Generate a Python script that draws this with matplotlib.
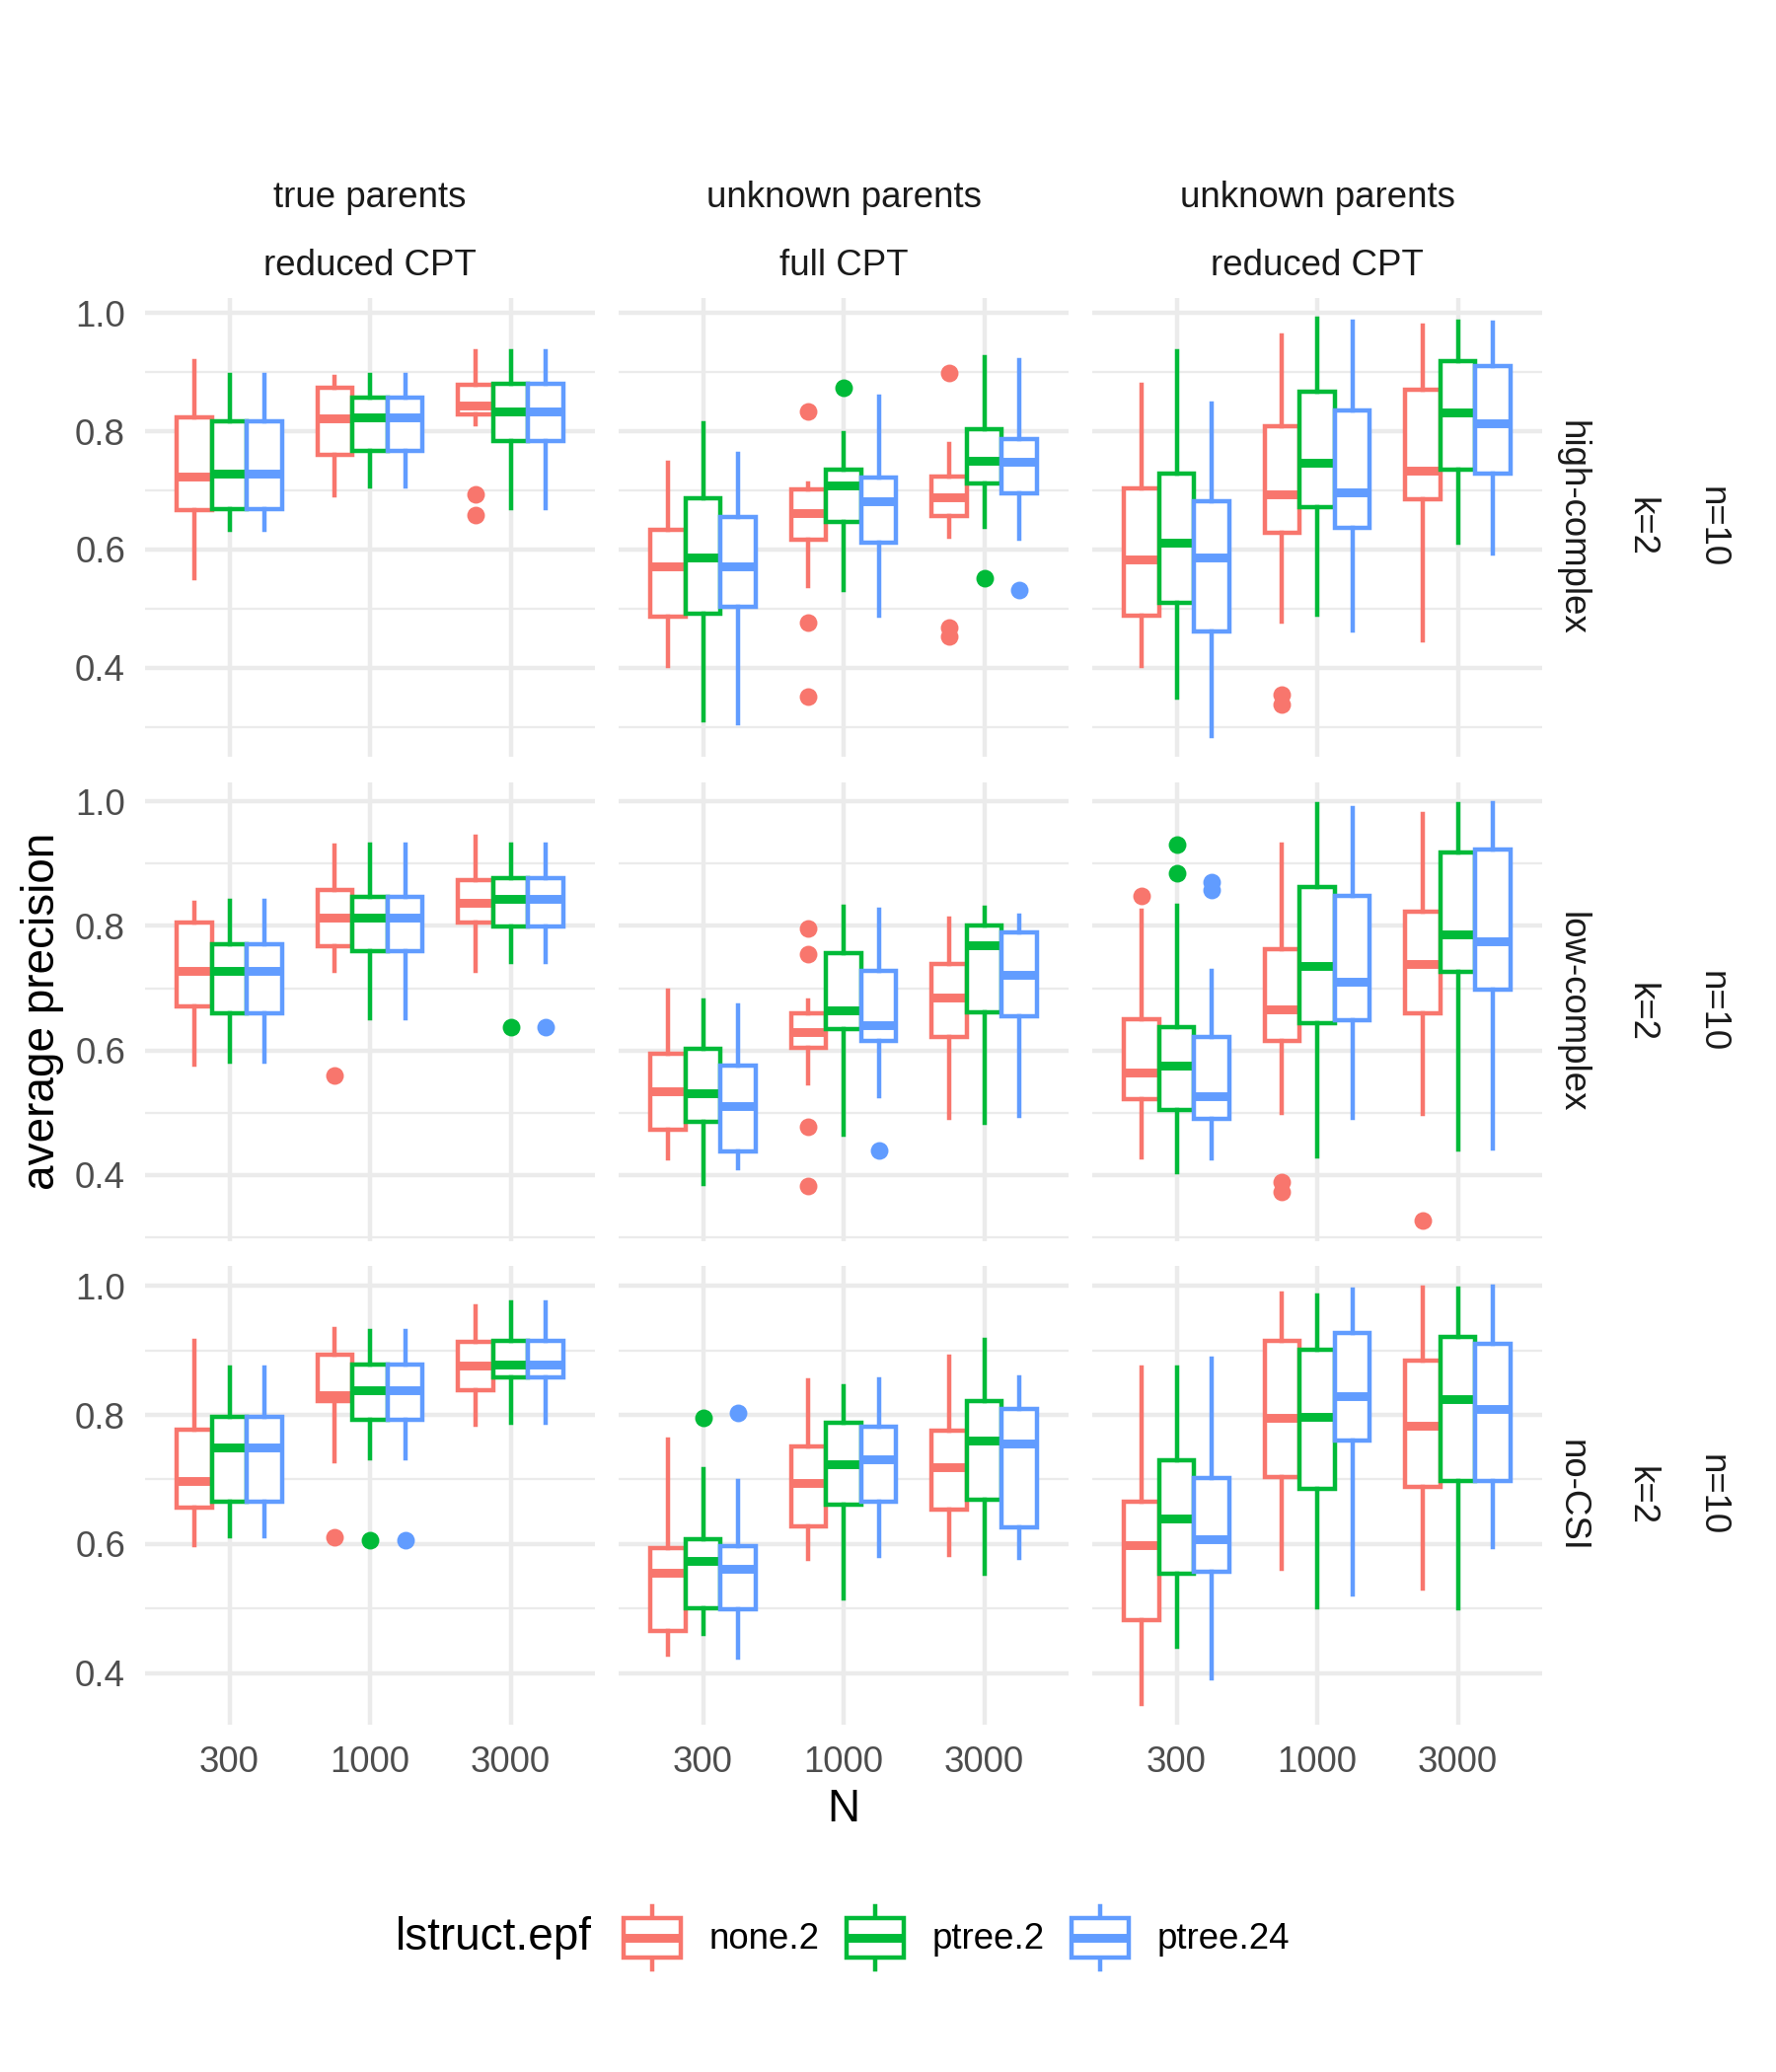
import numpy as np
import matplotlib.pyplot as plt
from matplotlib.patches import Patch, Rectangle
from matplotlib.lines import Line2D
from matplotlib.legend_handler import HandlerBase
from matplotlib.ticker import FixedLocator

plt.rcParams['font.family'] = ['Liberation Sans', 'DejaVu Sans']

# -------------- data --------------
sample_sizes = ['300', '1000', '3000']
groups = ['none.2', 'ptree.2', 'ptree.24']
col_labels = [('true parents', 'reduced CPT'),
              ('unknown parents', 'full CPT'),
              ('unknown parents', 'reduced CPT')]
row_labels = [('high-complex', 'k=2', 'n=10'),
              ('low-complex', 'k=2', 'n=10'),
              ('no-CSI', 'k=2', 'n=10')]

# box statistics, indexed [row][column][N][group] -> (whisker low, q1, median, q3, whisker high)
box_stats = [
    # high-complex
    [
        [[(0.552, 0.666, 0.723, 0.824, 0.918), (0.633, 0.668, 0.729, 0.816, 0.896), (0.633, 0.668, 0.729, 0.816, 0.896)],
         [(0.691, 0.760, 0.821, 0.874, 0.892), (0.706, 0.766, 0.823, 0.856, 0.896), (0.706, 0.766, 0.823, 0.856, 0.896)],
         [(0.811, 0.828, 0.844, 0.879, 0.936), (0.670, 0.784, 0.834, 0.880, 0.935), (0.670, 0.784, 0.834, 0.880, 0.935)]],
        [[(0.404, 0.486, 0.571, 0.634, 0.747), (0.312, 0.492, 0.586, 0.687, 0.814), (0.307, 0.504, 0.572, 0.655, 0.761)],
         [(0.539, 0.616, 0.662, 0.701, 0.712), (0.531, 0.647, 0.708, 0.735, 0.796), (0.489, 0.612, 0.681, 0.721, 0.859)],
         [(0.622, 0.657, 0.688, 0.724, 0.778), (0.639, 0.712, 0.750, 0.803, 0.926), (0.619, 0.695, 0.749, 0.787, 0.921)]],
        [[(0.403, 0.489, 0.583, 0.704, 0.878), (0.349, 0.510, 0.611, 0.728, 0.936), (0.285, 0.461, 0.586, 0.681, 0.846)],
         [(0.478, 0.629, 0.694, 0.808, 0.962), (0.490, 0.671, 0.746, 0.866, 0.990), (0.464, 0.637, 0.697, 0.835, 0.986)],
         [(0.446, 0.685, 0.734, 0.870, 0.979), (0.612, 0.735, 0.831, 0.919, 0.986), (0.594, 0.729, 0.813, 0.911, 0.984)]],
    ],
    # low-complex
    [
        [[(0.577, 0.671, 0.727, 0.806, 0.837), (0.582, 0.659, 0.727, 0.771, 0.841), (0.582, 0.659, 0.727, 0.771, 0.841)],
         [(0.728, 0.768, 0.814, 0.857, 0.929), (0.652, 0.759, 0.814, 0.847, 0.930), (0.652, 0.759, 0.814, 0.847, 0.930)],
         [(0.728, 0.805, 0.837, 0.874, 0.944), (0.742, 0.799, 0.843, 0.876, 0.930), (0.742, 0.799, 0.843, 0.876, 0.930)]],
        [[(0.427, 0.473, 0.534, 0.594, 0.696), (0.385, 0.485, 0.531, 0.602, 0.681), (0.411, 0.437, 0.511, 0.575, 0.673)],
         [(0.547, 0.604, 0.630, 0.660, 0.680), (0.464, 0.635, 0.664, 0.756, 0.831), (0.527, 0.616, 0.640, 0.727, 0.826)],
         [(0.491, 0.622, 0.685, 0.739, 0.811), (0.484, 0.662, 0.769, 0.801, 0.829), (0.495, 0.655, 0.722, 0.790, 0.817)]],
        [[(0.428, 0.522, 0.565, 0.650, 0.825), (0.404, 0.505, 0.576, 0.638, 0.833), (0.426, 0.490, 0.526, 0.622, 0.727)],
         [(0.499, 0.616, 0.666, 0.762, 0.930), (0.430, 0.644, 0.735, 0.863, 0.995), (0.492, 0.648, 0.711, 0.848, 0.989)],
         [(0.498, 0.660, 0.739, 0.823, 0.979), (0.441, 0.726, 0.786, 0.918, 0.995), (0.442, 0.697, 0.775, 0.922, 0.997)]],
    ],
    # no-CSI
    [
        [[(0.598, 0.657, 0.697, 0.777, 0.915), (0.612, 0.666, 0.750, 0.797, 0.873), (0.612, 0.666, 0.750, 0.797, 0.873)],
         [(0.729, 0.822, 0.831, 0.893, 0.934), (0.733, 0.792, 0.839, 0.878, 0.930), (0.733, 0.792, 0.839, 0.878, 0.930)],
         [(0.785, 0.839, 0.877, 0.914, 0.968), (0.788, 0.859, 0.878, 0.915, 0.975), (0.788, 0.859, 0.878, 0.915, 0.975)]],
        [[(0.429, 0.465, 0.556, 0.594, 0.762), (0.461, 0.500, 0.573, 0.608, 0.716), (0.423, 0.499, 0.562, 0.597, 0.698)],
         [(0.577, 0.627, 0.694, 0.752, 0.854), (0.516, 0.661, 0.724, 0.788, 0.844), (0.582, 0.665, 0.732, 0.782, 0.855)],
         [(0.583, 0.654, 0.719, 0.775, 0.890), (0.554, 0.668, 0.761, 0.821, 0.917), (0.579, 0.625, 0.756, 0.810, 0.859)]],
        [[(0.352, 0.482, 0.598, 0.666, 0.874), (0.440, 0.554, 0.640, 0.730, 0.873), (0.392, 0.557, 0.608, 0.703, 0.888)],
         [(0.561, 0.704, 0.795, 0.915, 0.989), (0.502, 0.686, 0.797, 0.901, 0.986), (0.521, 0.760, 0.830, 0.928, 0.994)],
         [(0.531, 0.688, 0.783, 0.884, 0.997), (0.500, 0.698, 0.824, 0.921, 0.996), (0.595, 0.698, 0.810, 0.910, 0.999)]],
    ],
]

# outliers: (row, column, N index, group index, value)
outliers = [
    (0, 0, 2, 0, 0.693), (0, 0, 2, 0, 0.659),
    (0, 1, 1, 0, 0.833), (0, 1, 1, 0, 0.476), (0, 1, 1, 0, 0.351), (0, 1, 1, 1, 0.873),
    (0, 1, 2, 0, 0.899), (0, 1, 2, 0, 0.469), (0, 1, 2, 0, 0.453), (0, 1, 2, 1, 0.551), (0, 1, 2, 2, 0.532),
    (0, 2, 1, 0, 0.355), (0, 2, 1, 0, 0.338),
    (1, 0, 1, 0, 0.560), (1, 0, 2, 1, 0.637), (1, 0, 2, 2, 0.637),
    (1, 1, 1, 0, 0.796), (1, 1, 1, 0, 0.755), (1, 1, 1, 0, 0.478), (1, 1, 1, 0, 0.383), (1, 1, 1, 2, 0.439),
    (1, 2, 0, 0, 0.848), (1, 2, 0, 1, 0.930), (1, 2, 0, 1, 0.884), (1, 2, 0, 2, 0.871), (1, 2, 0, 2, 0.858),
    (1, 2, 1, 0, 0.389), (1, 2, 1, 0, 0.373), (1, 2, 2, 0, 0.327),
    (2, 0, 1, 0, 0.611), (2, 0, 1, 1, 0.606), (2, 0, 1, 2, 0.606),
    (2, 1, 0, 1, 0.795), (2, 1, 0, 2, 0.804),
]

# -------------- style --------------
colors = ['#F8766D', '#00BA38', '#619CFF']
LW = 1.07          # ggplot linewidth 0.5
GRID = '#EBEBEB'
TICK_COLOR = '#4D4D4D'
STRIP_COLOR = '#1A1A1A'
SMALL = 8.8
BIG = 11


class BoxKey(HandlerBase):
    # legend key drawn like ggplot's boxplot key
    def create_artists(self, legend, orig_handle, xdescent, ydescent, width, height, fontsize, trans):
        c = orig_handle.get_edgecolor()
        x0, y0 = -xdescent, -ydescent
        cx = x0 + width / 2
        lo = Line2D([cx, cx], [y0 + 0.1 * height, y0 + 0.25 * height], color=c, lw=LW, transform=trans)
        hi = Line2D([cx, cx], [y0 + 0.75 * height, y0 + 0.9 * height], color=c, lw=LW, transform=trans)
        box = Rectangle((x0 + 0.1 * width, y0 + 0.25 * height), 0.8 * width, 0.5 * height,
                        facecolor='white', edgecolor=c, lw=LW, transform=trans)
        med = Line2D([x0 + 0.1 * width, x0 + 0.9 * width], [y0 + 0.5 * height] * 2,
                     color=c, lw=2 * LW, transform=trans, solid_capstyle='butt')
        return [lo, hi, box, med]


fig = plt.figure(figsize=(6, 7), dpi=300)

lefts = [147, 627, 1107]
tops = [302, 793, 1283]
pw, ph = 456, 465
W, H = 1800, 2100

for r in range(3):
    # y range of the row from its data, with 5% padding like ggplot
    vals = [v for c in range(3) for n in range(3) for g in range(3) for v in box_stats[r][c][n][g]]
    vals += [o[4] for o in outliers if o[0] == r]
    lo, hi = min(vals), max(vals)
    pad = 0.05 * (hi - lo)

    for c in range(3):
        ax = fig.add_axes([lefts[c] / W, 1 - (tops[r] + ph) / H, pw / W, ph / H])

        for g in range(3):
            stats = []
            for n in range(3):
                wl, q1, med, q3, wh = box_stats[r][c][n][g]
                fl = [o[4] for o in outliers if o[0] == r and o[1] == c and o[2] == n and o[3] == g]
                stats.append(dict(whislo=wl, q1=q1, med=med, q3=q3, whishi=wh, fliers=fl))
            pos = np.arange(1, 4) + (g - 1) * 0.25
            ax.bxp(stats, positions=pos, widths=0.25, showcaps=False, patch_artist=True,
                   boxprops=dict(facecolor='white', edgecolor=colors[g], linewidth=LW),
                   whiskerprops=dict(color=colors[g], linewidth=LW),
                   medianprops=dict(color=colors[g], linewidth=2 * LW, solid_capstyle='butt'),
                   flierprops=dict(marker='o', markerfacecolor=colors[g], markeredgecolor=colors[g],
                                   markersize=4.3, markeredgewidth=0),
                   manage_ticks=False, zorder=3 + g)

        ax.set_xlim(0.4, 3.6)
        ax.set_ylim(lo - pad, hi + pad)
        ax.set_xticks([1, 2, 3])
        ax.set_xticklabels(sample_sizes if r == 2 else [])
        ax.set_yticks([0.4, 0.6, 0.8, 1.0])
        ax.yaxis.set_minor_locator(FixedLocator([0.3, 0.5, 0.7, 0.9]))
        if c == 0:
            ax.set_yticklabels(['0.4', '0.6', '0.8', '1.0'])
        else:
            ax.set_yticklabels([])
        ax.tick_params(which='both', length=0, labelsize=SMALL, labelcolor=TICK_COLOR)
        ax.tick_params(axis='y', pad=4.8)
        ax.tick_params(axis='x', pad=5)
        ax.grid(which='major', color=GRID, linewidth=LW)
        ax.grid(which='minor', axis='y', color=GRID, linewidth=LW / 2)
        ax.set_axisbelow(True)
        for s in ax.spines.values():
            s.set_visible(False)

        # column strips
        if r == 0:
            ax.annotate(col_labels[c][0], xy=(0.5, 1), xycoords='axes fraction', xytext=(0, 24.3),
                        textcoords='offset points', ha='center', va='center', fontsize=SMALL, color=STRIP_COLOR)
            ax.annotate(col_labels[c][1], xy=(0.5, 1), xycoords='axes fraction', xytext=(0, 7.7),
                        textcoords='offset points', ha='center', va='center', fontsize=SMALL, color=STRIP_COLOR)
        # row strips
        if c == 2:
            for k, off in enumerate([7.3, 24.1, 41.2]):
                ax.annotate(row_labels[r][k], xy=(1, 0.5), xycoords='axes fraction', xytext=(off, 0),
                            textcoords='offset points', ha='center', va='center', rotation=-90,
                            fontsize=SMALL, color=STRIP_COLOR)

# axis titles
fig.text(43 / W, 1 - 1025 / H, 'average precision', rotation=90, ha='center', va='center', fontsize=BIG)
fig.text(855 / W, 1 - 1834 / H, 'N', ha='center', va='center', fontsize=BIG)

# legend at the bottom, title to the left of the keys
handles = [Patch(edgecolor=colors[g], facecolor='white', label=groups[g]) for g in range(3)]
fig.text(600 / W, 1 - 1964 / H, 'lstruct.epf', ha='right', va='center', fontsize=BIG)
fig.legend(handles=handles, loc='center left', bbox_to_anchor=(625 / W, 1 - 1964 / H), ncol=3,
           frameon=False, fontsize=SMALL, handler_map={Patch: BoxKey()},
           handlelength=1.96, handleheight=3.0, handletextpad=0.6, columnspacing=0.55,
           borderpad=0, borderaxespad=0)

fig.savefig('out.png', dpi=300, facecolor='white')
